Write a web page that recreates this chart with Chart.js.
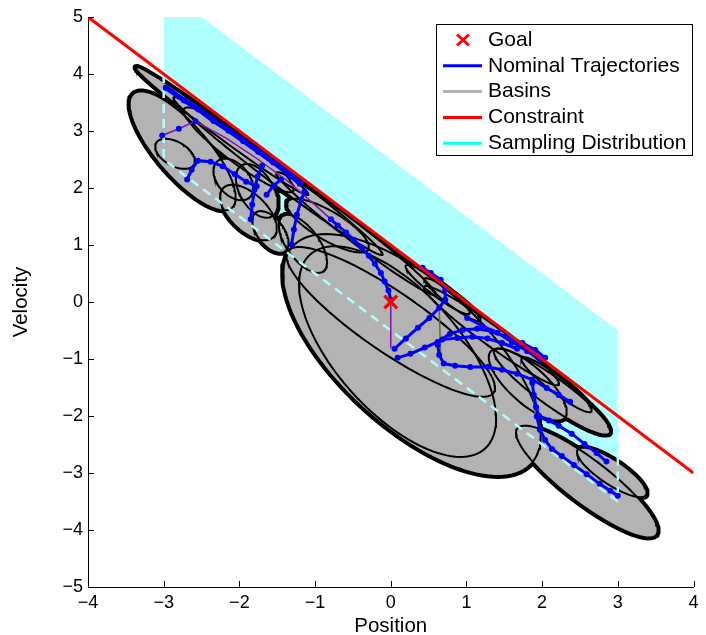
<!DOCTYPE html>
<html><head><meta charset="utf-8">
<script src="https://cdn.jsdelivr.net/npm/chart.js@4.4.1/dist/chart.umd.min.js"></script>
<style>html,body{margin:0;padding:0;background:#fff}#c{display:block}</style>
</head><body>
<canvas id="c" width="706" height="635"></canvas>
<script>
// ---------------- data ----------------
const xTickValues = [-4,-3,-2,-1,0,1,2,3,4];
const yTickValues = [-5,-4,-3,-2,-1,0,1,2,3,4,5];
const goal = [[0,0]];
const constraintLine = [[-4,5],[4,-3]];
const samplingRegion = [[-3,2.5],[-3,5.5],[3,-0.5],[3,-3.5]];
const samplingEdgeVisible = [[-3,4],[-3,2.5],[3,-3.5],[3,-2]];
// basins: centre x, centre y, semi-axis A (dx,dy), semi-axis B (dx,dy)
const basins = [
  [-2.23, 3.00, 1.14, -1.12, 0.055, 0.098],
  [-1.49, 2.21, 1.38, -1.38, 0.071, 0.126],
  [-0.46, 1.20, 1.05, -1.07, 0.071, 0.126],
  [0.62, 0.22, 0.42, -0.42, 0.055, 0.098],
  [0.815, 0.04, 0.37, -0.37, 0.047, 0.084],
  [1.33, -0.59, 0.89, -0.86, 0.079, 0.14],
  [2.13, -1.57, 0.76, -0.73, 0.11, 0.197],
  [2.19, -1.45, 0.46, -0.47, 0.063, 0.112],
  [2.92, -2.99, 0.45, -0.40, 0.095, 0.169],
  [2.59, -3.15, 0.92, -0.93, 0.173, 0.309],
  [-2.75, 2.65, 0.644, -1.006, 0.275, 0.276],
  [-2.85, 2.60, 0.25, -0.19, 0.079, 0.183],
  [-2.01, 2.67, 0.72, -0.72, 0.105, 0.186],
  [-2.08, 2.15, 0.21, -0.32, 0.158, 0.176],
  [-1.77, 1.95, 0.18, -0.46, 0.21, 0.105],
  [-1.88, 1.57, 0.34, -0.42, 0.158, 0.246],
  [-1.59, 1.23, 0.18, -0.35, 0.158, 0.105],
  [-0.83, 1.34, 0.53, -0.42, 0.105, 0.211],
  [-1.16, 1.02, 0.26, -0.49, 0.184, 0.14],
  [0.28, -0.93, 1.58, -1.90, 0.63, 0.945],
  [0.09, -0.87, 1.18, -1.67, 0.55, 0.79],
  [0.0, -0.35, 1.36, -1.24, 0.22, 0.435],
  [1.81, -1.45, 0.49, -0.58, 0.158, 0.246]
];
const trajTop = [[-2.97,3.76],[-2.73,3.54],[-2.54,3.38],[-2.34,3.18],[-2.14,3.01],[-1.95,2.83],[-1.75,2.64],[-1.55,2.45],[-1.35,2.25],[-1.20,2.08]];
const treeLeft = [[-3.02,2.92],[-2.80,3.04],[-2.58,3.17],[-2.17,2.87],[-1.75,2.50],[-1.35,2.11],[-1.03,1.74],[-0.79,1.45]];
const trajToGoal = [[-0.79,1.45],[-0.70,1.34],[-0.59,1.22],[-0.49,1.09],[-0.38,0.95],[-0.29,0.81],[-0.21,0.67],[-0.13,0.51],[-0.08,0.36],[-0.03,0.20],[0,0.04]];
const traj2 = [[-2.69,2.15],[-2.63,2.32],[-2.55,2.48],[-2.38,2.46],[-2.22,2.38],[-2.06,2.24],[-1.91,2.11],[-1.77,2.03]];
const traj3 = [[-1.85,1.45],[-1.83,1.71],[-1.80,1.97],[-1.76,2.20],[-1.70,2.39]];
const traj4 = [[-1.64,1.88],[-1.55,2.04],[-1.45,2.15]];
const traj5 = [[-1.31,1.01],[-1.28,1.27],[-1.24,1.53],[-1.18,1.80],[-1.14,1.94]];
const traj6 = [[0.42,0.60],[0.53,0.51],[0.66,0.39],[0.72,0.22],[0.72,0.04],[0.64,-0.10],[0.51,-0.28],[0.36,-0.45],[0.20,-0.64],[0.05,-0.82]];
const traj7 = [[0.09,-0.98],[0.26,-0.91],[0.45,-0.80],[0.62,-0.70],[0.78,-0.56],[0.95,-0.49],[1.14,-0.47],[1.34,-0.52],[1.54,-0.61],[1.74,-0.72],[1.91,-0.84],[2.04,-0.98]];
const traj8 = [[0.68,-0.66],[0.88,-0.63],[1.08,-0.61],[1.28,-0.64],[1.47,-0.72],[1.67,-0.82]];
const traj9 = [[0.62,-0.75],[0.64,-0.93],[0.70,-1.08],[0.85,-1.12],[1.05,-1.14],[1.28,-1.14],[1.47,-1.19],[1.67,-1.26],[1.87,-1.36],[2.06,-1.51],[2.22,-1.63],[2.37,-1.75]];
const traj10 = [[1.87,-1.42],[1.89,-1.63],[1.92,-1.84],[1.96,-2.00],[2.09,-2.08],[2.22,-2.17],[2.39,-2.31],[2.56,-2.49],[2.72,-2.65],[2.85,-2.80]];
const traj11 = [[1.93,-2.01],[1.97,-2.24],[2.04,-2.42],[2.13,-2.58],[2.26,-2.70],[2.42,-2.86],[2.59,-3.02],[2.76,-3.19],[2.90,-3.31],[3.00,-3.40]];
const traj12 = [[1.01,-0.28],[1.21,-0.42],[1.41,-0.54],[1.60,-0.70],[1.80,-0.86],[1.97,-1.01]];
const linkGoal = [[0,0],[0,-0.81]];
const linkA = [[0.64,-0.10],[0.66,-0.96]];
const linkB = [[1.87,-1.42],[1.91,-2.01]];
const legendLabels = ['Goal','Nominal Trajectories','Basins','Constraint','Sampling Distribution'];

// ---------------- helpers ----------------
const FONT = '"Liberation Sans", Arial, Helvetica, sans-serif';
const pts = a => a.map(p => ({x:p[0], y:p[1]}));
function ellipsePts(e, n, forFill){
  const [cx,cy,ux,uy,vx,vy] = e;
  const p0 = Math.atan2(vx, ux) + Math.PI;
  const out = [];
  const at = p => ({x: cx + ux*Math.cos(p) + vx*Math.sin(p), y: cy + uy*Math.cos(p) + vy*Math.sin(p)});
  for (let k=0;k<=n;k++) out.push(at(p0 + 2*Math.PI*k/n));
  if (forFill) out.push(at(p0 + Math.PI));
  return out;
}
const GRAY = 'rgb(179,179,179)';
const CYAN = 'rgb(175,255,255)';
const BLUE = '#0000ff';

const datasets = [];
datasets.push({data: pts(samplingRegion), fill:'shape', backgroundColor: CYAN, borderColor:'rgba(0,0,0,0)', borderWidth:1, pointRadius:0, order:100});
basins.forEach(e => {
  datasets.push({data: ellipsePts(e,120,false), fill:false, borderColor:'#000', borderWidth:6, borderJoinStyle:'round', pointRadius:0, order:90});
  datasets.push({data: ellipsePts(e,120,true), fill:'shape', backgroundColor: GRAY, borderColor:'rgba(0,0,0,0)', borderWidth:1, pointRadius:0, order:80});
  datasets.push({data: ellipsePts(e,120,false), fill:false, borderColor:'#000', borderWidth:2, pointRadius:0, order:70});
});
datasets.push({data: pts(samplingEdgeVisible), fill:false, borderColor: CYAN, borderWidth:2.5, borderDash:[9,6], pointRadius:0, order:60});
datasets.push({data: pts(treeLeft), borderColor:'rgb(128,20,170)', borderWidth:1.5, pointRadius:[3,3,3,0,0,0,0,0], pointBackgroundColor:BLUE, pointBorderWidth:0, order:50});
[linkGoal].forEach(l => datasets.push({data: pts(l), borderColor:'rgb(128,20,170)', borderWidth:1.5, pointRadius:0, order:50}));
[linkA, linkB].forEach(l => datasets.push({data: pts(l), borderColor:'rgb(110,95,80)', borderWidth:1.5, pointRadius:0, order:50}));
datasets.push({data: pts(trajTop), borderColor:BLUE, borderWidth:5, pointRadius:3.2, pointBackgroundColor:BLUE, pointBorderWidth:0, order:40});
[trajToGoal, traj2, traj3, traj4, traj5, traj6, traj7, traj8, traj9, traj10, traj11, traj12].forEach(t =>
  datasets.push({data: pts(t), borderColor:BLUE, borderWidth:3, pointRadius:3, pointBackgroundColor:BLUE, pointBorderWidth:0, order:40}));
datasets.push({data: pts(constraintLine), borderColor:'#ff0000', borderWidth:3, pointRadius:0, order:30});
datasets.push({data: pts(goal), showLine:false, pointStyle:'crossRot', pointRadius:9, pointBorderWidth:3.5, pointBorderColor:'#ff0000', pointBackgroundColor:'#ff0000', order:20});

const fmt = v => (v < 0 ? '\u2212' + Math.abs(v) : String(v));

const inwardTicks = {
  id:'inwardTicks',
  afterDraw(chart){
    const {ctx, chartArea:a, scales:{x,y}} = chart;
    ctx.save(); ctx.strokeStyle='#000'; ctx.lineWidth=1; ctx.beginPath();
    xTickValues.forEach(v => { const px = Math.round(x.getPixelForValue(v)) + 0.5; ctx.moveTo(px, a.bottom); ctx.lineTo(px, a.bottom-6); });
    yTickValues.forEach(v => { const py = Math.round(y.getPixelForValue(v)) + 0.5; ctx.moveTo(a.left, py); ctx.lineTo(a.left+6, py); });
    ctx.stroke(); ctx.restore();
  }
};
const matlabLegend = {
  id:'matlabLegend',
  afterDraw(chart){
    const ctx = chart.ctx; ctx.save();
    ctx.fillStyle='#fff'; ctx.fillRect(436,24,257,132);
    ctx.strokeStyle='#000'; ctx.lineWidth=1; ctx.strokeRect(436.5,24.5,256,131);
    const colors = ['#ff0000', BLUE, GRAY, '#ff0000', '#00ffff'];
    ctx.font = '21px ' + FONT; ctx.textBaseline='middle'; ctx.textAlign='left';
    legendLabels.forEach((t,i) => {
      const yy = 40 + i*25.8;
      ctx.strokeStyle = colors[i]; ctx.lineWidth = 3; ctx.beginPath();
      if (i === 0) { ctx.moveTo(457,34.5); ctx.lineTo(469,45.5); ctx.moveTo(469,34.5); ctx.lineTo(457,45.5); }
      else { ctx.moveTo(443,yy); ctx.lineTo(482,yy); }
      ctx.stroke();
      ctx.fillStyle='#000'; ctx.fillText(t, 488, yy);
    });
    ctx.restore();
  }
};

new Chart(document.getElementById('c'), {
  type:'line',
  data:{datasets},
  options:{
    responsive:false, animation:false, devicePixelRatio:1,
    layout:{padding:{left:0,right:9,top:17,bottom:0}},
    elements:{line:{tension:0}},
    plugins:{legend:{display:false}, tooltip:{enabled:false}},
    scales:{
      x:{type:'linear', min:-4, max:4,
        afterBuildTicks: s => { s.ticks = xTickValues.map(v => ({value:v})); },
        afterFit: s => { s.height = 48; },
        grid:{display:false, drawTicks:false}, border:{display:true, color:'#000', width:1},
        ticks:{padding:5, color:'#000', font:{family:FONT, size:18}, callback: fmt, autoSkip:false, maxRotation:0},
        title:{display:true, text:'Position', color:'#000', font:{family:FONT, size:20.5, lineHeight:1}, padding:{top:0,bottom:-1.5}}
      },
      y:{type:'linear', min:-5, max:5,
        afterBuildTicks: s => { s.ticks = yTickValues.map(v => ({value:v})); },
        afterFit: s => { s.width = 88; },
        grid:{display:false, drawTicks:false}, border:{display:true, color:'#000', width:1},
        ticks:{padding:5, color:'#000', font:{family:FONT, size:18}, callback: fmt, autoSkip:false},
        title:{display:true, text:'Velocity', color:'#000', font:{family:FONT, size:20.5, lineHeight:1}, padding:{top:11,bottom:0}}
      }
    }
  },
  plugins:[inwardTicks, matlabLegend]
});
</script>
</body></html>
